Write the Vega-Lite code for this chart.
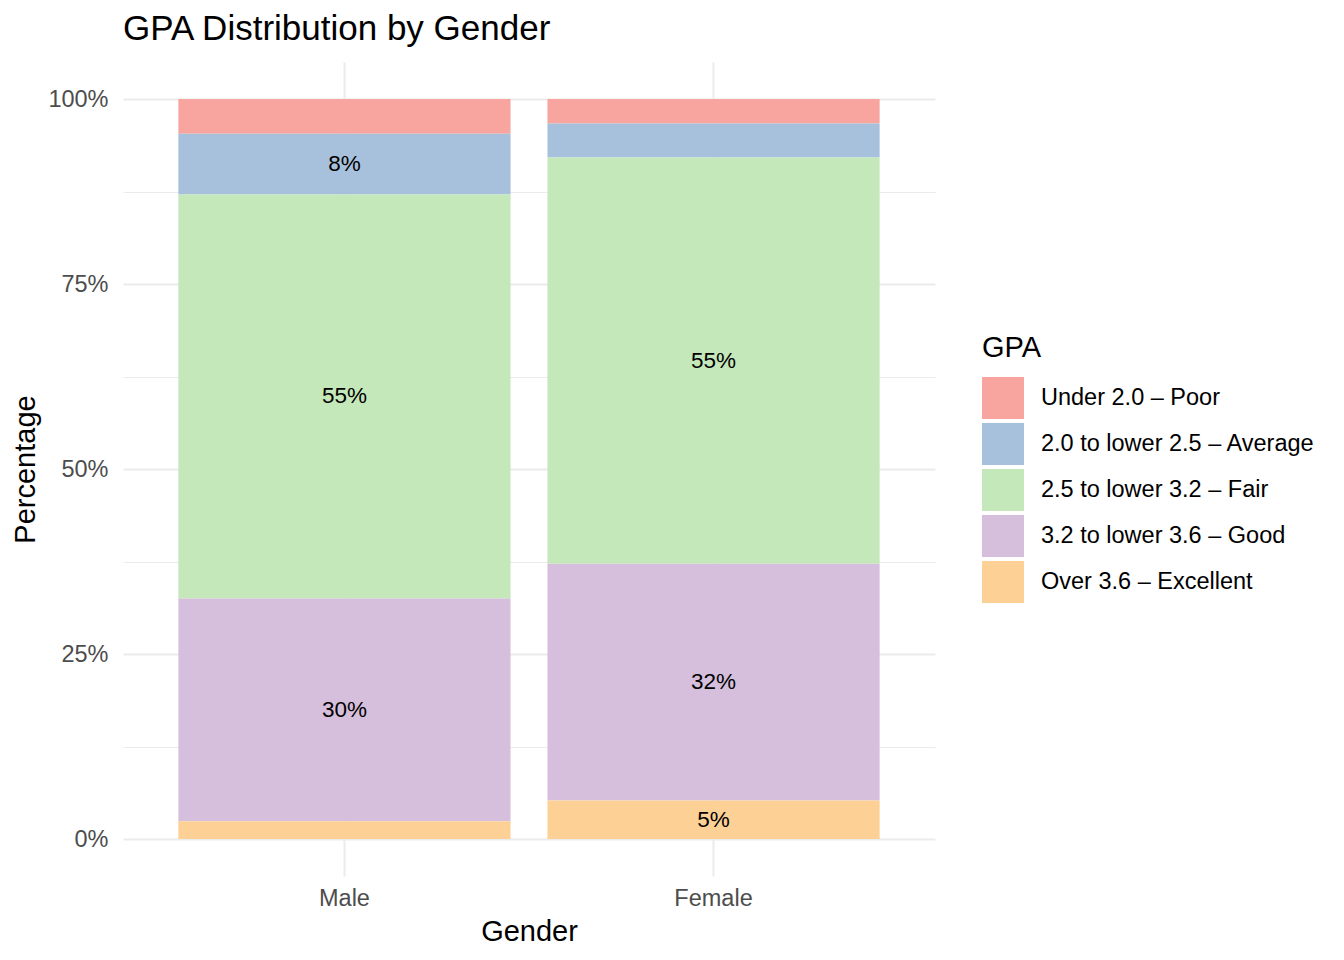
{
  "$schema": "https://vega.github.io/schema/vega-lite/v6.json",
  "width": 812,
  "height": 814,
  "autosize": {"type": "none"},
  "padding": {"left": 123, "top": 62, "right": 409, "bottom": 84},
  "background": "white",
  "title": {
    "text": "GPA Distribution by Gender",
    "anchor": "start",
    "frame": "group",
    "fontSize": 35,
    "fontWeight": "normal",
    "color": "black",
    "baseline": "alphabetic",
    "offset": 22,
    "dy": 35
  },
  "data": {
    "values": [
      {"gender": "Male", "gpa": "Under 2.0 – Poor", "pct": 0.047},
      {"gender": "Male", "gpa": "2.0 to lower 2.5 – Average", "pct": 0.082},
      {"gender": "Male", "gpa": "2.5 to lower 3.2 – Fair", "pct": 0.546},
      {"gender": "Male", "gpa": "3.2 to lower 3.6 – Good", "pct": 0.301},
      {"gender": "Male", "gpa": "Over 3.6 – Excellent", "pct": 0.024},
      {"gender": "Female", "gpa": "Under 2.0 – Poor", "pct": 0.033},
      {"gender": "Female", "gpa": "2.0 to lower 2.5 – Average", "pct": 0.046},
      {"gender": "Female", "gpa": "2.5 to lower 3.2 – Fair", "pct": 0.549},
      {"gender": "Female", "gpa": "3.2 to lower 3.6 – Good", "pct": 0.320},
      {"gender": "Female", "gpa": "Over 3.6 – Excellent", "pct": 0.052}
    ]
  },
  "transform": [
    {"calculate": "indexof(['Over 3.6 – Excellent', '3.2 to lower 3.6 – Good', '2.5 to lower 3.2 – Fair', '2.0 to lower 2.5 – Average', 'Under 2.0 – Poor'], datum.gpa)", "as": "ord"},
    {"stack": "pct", "groupby": ["gender"], "sort": [{"field": "ord", "order": "ascending"}], "offset": "normalize", "as": ["y0", "y1"]},
    {"calculate": "(datum.y0 + datum.y1) / 2", "as": "mid"}
  ],
  "encoding": {
    "x": {
      "field": "gender",
      "type": "nominal",
      "sort": ["Male", "Female"],
      "scale": {"paddingInner": 0.1, "paddingOuter": 0.15},
      "axis": {
        "title": "Gender",
        "labelAngle": 0,
        "labelFontSize": 23.5,
        "labelColor": "#4D4D4D",
        "labelPadding": 10,
        "titleFontSize": 29,
        "titleFontWeight": "normal",
        "titleColor": "black",
        "titlePadding": 8,
        "ticks": false,
        "domain": false,
        "grid": true,
        "gridColor": "#EBEBEB",
        "gridWidth": 2,
        "bandPosition": 0.5
      }
    }
  },
  "layer": [
    {
      "mark": {"type": "bar"},
      "encoding": {
        "y": {
          "field": "y0",
          "type": "quantitative",
          "scale": {"domain": [-0.05, 1.05], "nice": false, "zero": false},
          "axis": {
            "title": "Percentage",
            "values": [0, 0.125, 0.25, 0.375, 0.5, 0.625, 0.75, 0.875, 1],
            "labelExpr": "(datum.value * 4) % 1 == 0 ? format(datum.value, '.0%') : ''",
            "labelFontSize": 23.5,
            "labelColor": "#4D4D4D",
            "labelPadding": 15,
            "titleFontSize": 29,
            "titleFontWeight": "normal",
            "titleColor": "black",
            "titlePadding": 7,
            "ticks": false,
            "domain": false,
            "grid": true,
            "gridColor": "#EBEBEB",
            "gridWidth": {"condition": {"test": "(datum.value * 4) % 1 != 0", "value": 1.2}, "value": 2}
          }
        },
        "y2": {"field": "y1"},
        "color": {
          "field": "gpa",
          "type": "nominal",
          "scale": {
            "domain": ["Under 2.0 – Poor", "2.0 to lower 2.5 – Average", "2.5 to lower 3.2 – Fair", "3.2 to lower 3.6 – Good", "Over 3.6 – Excellent"],
            "range": ["#F8A5A0", "#A7C1DC", "#C4E8BA", "#D6BFDC", "#FDD096"]
          },
          "legend": {
            "title": "GPA",
            "orient": "none",
            "legendX": 859,
            "legendY": 272,
            "titleFontSize": 29,
            "titleFontWeight": "normal",
            "titleColor": "black",
            "titlePadding": 14,
            "symbolType": "square",
            "symbolSize": 1764,
            "symbolStrokeWidth": 0,
            "symbolOpacity": 1,
            "labelFontSize": 23.5,
            "labelColor": "black",
            "labelOffset": 17,
            "labelLimit": 0,
            "rowPadding": 4
          }
        }
      }
    },
    {
      "transform": [{"filter": "datum.pct >= 0.05"}],
      "mark": {"type": "text", "fontSize": 22.5, "color": "black"},
      "encoding": {
        "y": {"field": "mid", "type": "quantitative"},
        "text": {"field": "pct", "type": "quantitative", "format": ".0%"}
      }
    }
  ],
  "config": {
    "font": "Liberation Sans",
    "view": {"stroke": null}
  }
}
